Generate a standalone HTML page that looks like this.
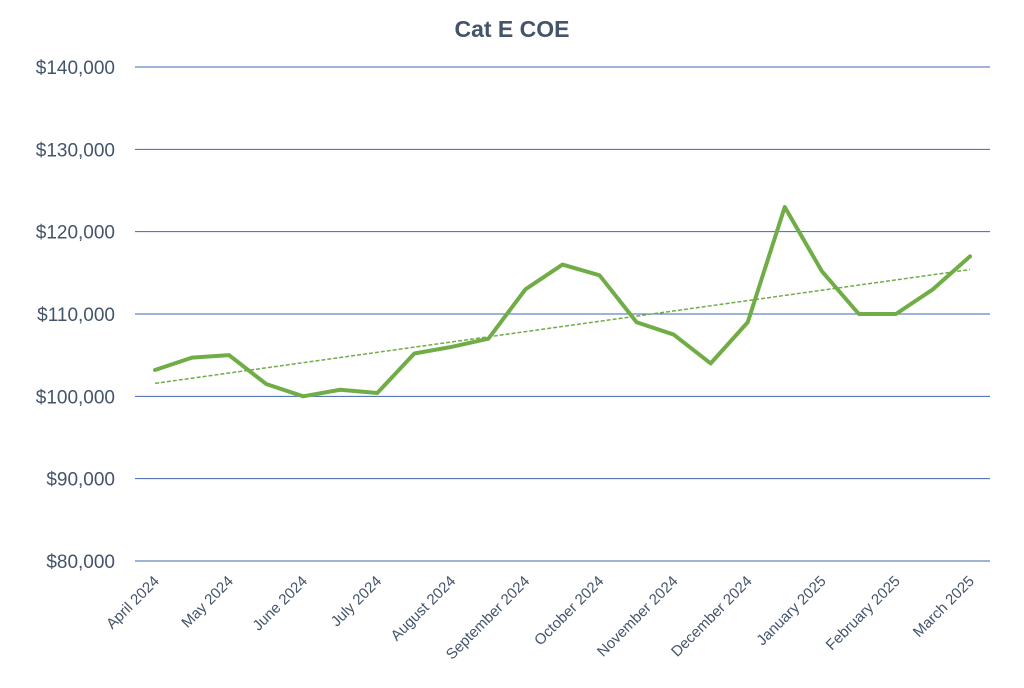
<!DOCTYPE html>
<html><head><meta charset="utf-8"><style>
body{margin:0;background:#fff;font-family:"Liberation Sans",Calibri,sans-serif}
svg text{font-family:"Liberation Sans",sans-serif}
</style></head><body>
<svg id="chart" width="1024" height="683" viewBox="0 0 1024 683" xmlns="http://www.w3.org/2000/svg">
<rect width="1024" height="683" fill="#fff"/>
<text x="512" y="37" text-anchor="middle" font-size="23" font-weight="bold" fill="#44546a">Cat E COE</text>
<g id="grid"></g>
<g id="yaxis"></g>
<g id="xaxis"></g>
<g id="series"></g>
</svg>
<script>
const monthLabels=["April 2024","May 2024","June 2024","July 2024","August 2024","September 2024","October 2024","November 2024","December 2024","January 2025","February 2025","March 2025"];
const values=[103200,104700,105000,101500,100000,100800,100400,105200,106000,107000,113000,116000,114700,109000,107500,104000,109000,123000,115200,110000,110000,113000,117000];
const yTicks=[80000,90000,100000,110000,120000,130000,140000];
const yTickLabels=["$80,000","$90,000","$100,000","$110,000","$120,000","$130,000","$140,000"];
const NS="http://www.w3.org/2000/svg";
const x0=155,x1=970,yMin=80000,yMax=140000,yBot=561,yTop=67;
const xs=i=>x0+(x1-x0)*i/(values.length-1);
const ys=v=>yBot-(v-yMin)/(yMax-yMin)*(yBot-yTop);
function mk(tag,attrs,parent){const e=document.createElementNS(NS,tag);for(const k in attrs)e.setAttribute(k,attrs[k]);parent.appendChild(e);return e;}
const grid=document.getElementById('grid'),ya=document.getElementById('yaxis'),xa=document.getElementById('xaxis'),se=document.getElementById('series');
yTicks.forEach((t,i)=>{
 const l=mk('line',{x1:135,x2:990,y1:ys(t),y2:ys(t),stroke:'#3f65b0','stroke-width':1},grid);
 
 
 const tx=mk('text',{x:115,y:ys(t)+7,'text-anchor':'end','font-size':19,fill:'#44546a'},ya);
 tx.textContent=yTickLabels[i];
 
 
});
monthLabels.forEach((m,i)=>{
 const x=x0+(x1-x0)*i/(monthLabels.length-1), y=582;
 const tx=mk('text',{x:x+5,y:y,'text-anchor':'end','font-size':15,fill:'#44546a',transform:`rotate(-45 ${x+5} ${y})`},xa);
 tx.textContent=m;
 
 
});
const n=values.length;let sx=0,sy=0,sxx=0,sxy=0;
values.forEach((v,i)=>{sx+=i;sy+=v;sxx+=i*i;sxy+=i*v;});
const b=(n*sxy-sx*sy)/(n*sxx-sx*sx),a=(sy-b*sx)/n;
const tl=mk('line',{x1:xs(0),y1:ys(a),x2:xs(n-1),y2:ys(a+b*(n-1)),stroke:'#70ad47','stroke-width':1.5,'stroke-dasharray':'4 2'},se);


const p=mk('polyline',{points:values.map((v,i)=>xs(i)+','+ys(v)).join(' '),fill:'none',stroke:'#70ad47','stroke-width':4,'stroke-linejoin':'round','stroke-linecap':'round'},se);


</script>
</body></html>
